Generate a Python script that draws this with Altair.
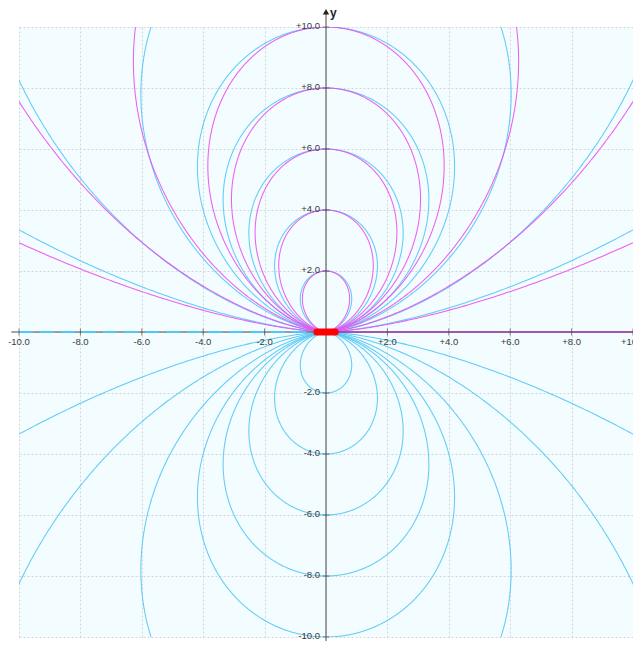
import numpy as np
import pandas as pd
import altair as alt

# ---- values ----
cyan_k = [2, 4, 6, 8, 10, 14.4, 27.5, 80]          # size parameter of each cyan field line
magenta_k = [2, 4, 6, 8, 10, 16.3, 34.5, 132]      # size parameter of each magenta field line (upper half)
cyan_bulge = 0.45                                  # cyan lines are a little wider than sin^2 lines
grid_vals = [-10, -8, -6, -4, -2, 0, 2, 4, 6, 8, 10]
tick_vals = [-10, -8, -6, -4, -2, 2, 4, 6, 8, 10]
tick_labels = ["-10.0", "-8.0", "-6.0", "-4.0", "-2.0", "+2.0", "+4.0", "+6.0", "+8.0", "+10.0"]
dipole_x = [-0.3, 0.3]

CYAN = "#52c7f6"
MAGENTA = "#f04cf0"

theta = np.linspace(0.0, np.pi, 1441)
s = np.sin(theta)
rows = []
for i, k in enumerate(cyan_k):
    r = k * s ** 2 * (1 + cyan_bulge * (1 - s))
    xs, ys = r * np.cos(theta), r * s
    for half, sign in (("u", 1), ("d", -1)):
        for j in range(len(theta)):
            rows.append({"curve": f"c{i}{half}", "fam": "cyan", "o": j, "x": xs[j], "y": sign * ys[j]})
for i, k in enumerate(magenta_k):
    r = k * s ** 2
    xs, ys = r * np.cos(theta), r * s
    for j in range(len(theta)):
        rows.append({"curve": f"m{i}", "fam": "magenta", "o": j, "x": xs[j], "y": ys[j]})
curves_df = pd.DataFrame(rows)

xsc = alt.Scale(domain=[-10, 10], nice=False, zero=False)
ysc = alt.Scale(domain=[-10, 10], nice=False, zero=False)
grid_axis = alt.Axis(values=grid_vals, labels=False, ticks=False, domain=False, grid=True,
                     gridDash=[2, 2], gridColor="#d2d8da", gridWidth=1, title=None)

curves = alt.Chart(curves_df).mark_line(clip=True, strokeWidth=1.05, opacity=0.9).encode(
    x=alt.X("x:Q", scale=xsc, axis=grid_axis),
    y=alt.Y("y:Q", scale=ysc, axis=grid_axis),
    detail="curve:N",
    order="o:Q",
    color=alt.Color("fam:N", scale=alt.Scale(domain=["cyan", "magenta"], range=[CYAN, MAGENTA]), legend=None),
)

axes_df = pd.DataFrame({"x": [-10.25, 0.0], "x2": [10.4, 0.0], "y": [0.0, -10.6], "y2": [0.0, 10.45]})
axis_lines = alt.Chart(axes_df).mark_rule(color="#4a4a4a", strokeWidth=1).encode(
    x=alt.X("x:Q", scale=xsc), x2="x2:Q", y=alt.Y("y:Q", scale=ysc), y2="y2:Q")

near_df = pd.DataFrame({"x": [-10.0, 0.3], "x2": [-0.3, 10.0], "y": [0.0, 0.0], "side": ["l", "r"]})
near_left = alt.Chart(near_df[near_df.side == "l"]).mark_rule(color=CYAN, strokeWidth=2, strokeDash=[14, 7]).encode(
    x=alt.X("x:Q", scale=xsc), x2="x2:Q", y=alt.Y("y:Q", scale=ysc))
near_right = alt.Chart(near_df[near_df.side == "r"]).mark_rule(color="#a040b0", strokeWidth=1.6).encode(
    x=alt.X("x:Q", scale=xsc), x2="x2:Q", y=alt.Y("y:Q", scale=ysc))

dip_df = pd.DataFrame({"x": [dipole_x[0]], "x2": [dipole_x[1]], "y": [0.0]})
dipole = alt.Chart(dip_df).mark_rule(color="#ff0000", strokeWidth=7, strokeCap="round").encode(
    x=alt.X("x:Q", scale=xsc), x2="x2:Q", y=alt.Y("y:Q", scale=ysc))

tk_df = pd.DataFrame({"v": tick_vals, "lab": tick_labels, "zero": [0.0] * len(tick_vals)})
xticks = alt.Chart(tk_df).mark_tick(orient="vertical", size=7, thickness=1, color="#4a4a4a").encode(
    x=alt.X("v:Q", scale=xsc), y=alt.Y("zero:Q", scale=ysc))
yticks = alt.Chart(tk_df).mark_tick(orient="horizontal", size=7, thickness=1, color="#4a4a4a").encode(
    y=alt.Y("v:Q", scale=ysc), x=alt.X("zero:Q", scale=xsc))
xlabels = alt.Chart(tk_df).mark_text(font="Liberation Sans", fontSize=9.5, color="#3a3a3a",
                                     align="center", baseline="middle", dy=10).encode(
    x=alt.X("v:Q", scale=xsc), y=alt.Y("zero:Q", scale=ysc), text="lab:N")
ylabels = alt.Chart(tk_df).mark_text(font="Liberation Sans", fontSize=9.5, color="#3a3a3a",
                                     align="right", baseline="middle", dx=-6, dy=-1).encode(
    y=alt.Y("v:Q", scale=ysc), x=alt.X("zero:Q", scale=xsc), text="lab:N")

arrow_df = pd.DataFrame({"x": [0.0], "y": [10.5], "t": ["y"]})
arrow = alt.Chart(arrow_df).mark_point(shape="triangle-up", filled=True, size=40, color="#222222", opacity=1).encode(
    x=alt.X("x:Q", scale=xsc), y=alt.Y("y:Q", scale=ysc))
ytitle = alt.Chart(arrow_df).mark_text(font="Liberation Sans", fontSize=12, fontWeight="bold", color="#222222",
                                       align="left", baseline="middle", dx=4, dy=1).encode(
    x=alt.X("x:Q", scale=xsc), y=alt.Y("y:Q", scale=ysc), text="t:N")

chart = alt.layer(curves, axis_lines, near_left, near_right, dipole, xticks, yticks, xlabels, ylabels,
                  arrow, ytitle).properties(
    width=614, height=610,
    autosize=alt.AutoSizeParams(type="none"),
    padding={"left": 11, "top": 19, "right": 0, "bottom": 4},
    background="white",
).configure_view(fill="#f3fcfe", strokeWidth=0)

chart.save("out.html", embed_options={"renderer": "svg", "actions": False})
